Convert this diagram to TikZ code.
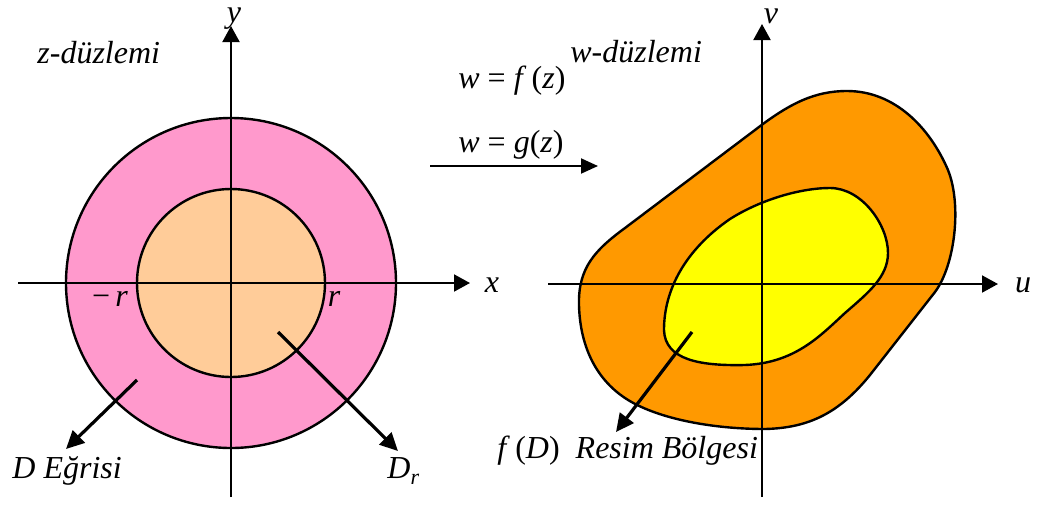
\documentclass[tikz,border=0pt]{standalone}
\usepackage{fontspec}
\setmainfont{Liberation Serif}
\usetikzlibrary{arrows.meta}
\definecolor{pinkc}{HTML}{FF99CC}
\definecolor{peachc}{HTML}{FFCC99}
\definecolor{orangec}{HTML}{FF9900}
\definecolor{yellowc}{HTML}{FFFF00}
\tikzset{
  axis/.style={line width=1pt,-{Triangle[length=8pt,width=8.5pt]}},
  outline/.style={line width=1.2pt,draw=black},
  pointer/.style={line width=1.6pt,-{Triangle[length=9pt,width=8.5pt]}},
  maparrow/.style={line width=1pt,-{Triangle[length=8.5pt,width=7.5pt]}},
  lbl/.style={inner sep=0pt,font=\fontsize{16}{18}\selectfont\itshape},
  mlbl/.style={inner sep=0pt,font=\fontsize{16}{18}\selectfont},
}
\begin{document}
\begin{tikzpicture}[x=0.5pt,y=-0.5pt]
\useasboundingbox (0,0) rectangle (1041,505);
% ---- left plane
\fill[pinkc] (231,283) circle[radius=82.5pt];
\draw[outline] (231,283) circle[radius=82.5pt];
\fill[peachc] (231,283) circle[radius=47pt];
\draw[outline] (231,283) circle[radius=47pt];
\coordinate (xL) at (18,283);
\coordinate (xR) at (470,283);
\coordinate (yB) at (231,497);
\coordinate (yT) at (231,26);
\draw[axis] (xL) -- (xR);
\draw[axis] (yB) -- (yT);
\node[lbl,anchor=base] (ly) at (234,22) {y};
\node[lbl] (lx) at (492,285) {x};
\node[lbl,anchor=base west] (lz) at (37,63) {z-düzlemi};
\node[mlbl] (lmr) at (110,299) {−\,\textit{r}};
\node[lbl] (lr) at (334,299) {r};
\node[lbl,anchor=base west] (lDE) at (12,478) {D Eğrisi};
\node[lbl,anchor=base west] (lDr) at (387,478) {D\raisebox{-0.45ex}{\fontsize{11}{13}\selectfont r}};
\coordinate (a1s) at (137,380);
\coordinate (a1e) at (66,449);
\coordinate (a2s) at (278,332);
\coordinate (a2e) at (398,451);
\draw[pointer] (a1s) -- (a1e);
\draw[pointer] (a2s) -- (a2e);
% ---- middle
\node[mlbl,anchor=base west] (lf) at (458,88) {\textit{w} = \textit{f}\,(\textit{z})};
\node[mlbl,anchor=base west] (lg) at (458,152) {\textit{w} = \textit{g}(\textit{z})};
\coordinate (mS) at (430,166);
\coordinate (mE) at (598,166);
\draw[maparrow] (mS) -- (mE);
% ---- right plane
\filldraw[outline,fill=orangec]
  (579,305) .. controls (578,268) and (595,250) .. (625,228)
  -- (755,130)
  .. controls (790,103) and (815,91) .. (847,91)
  .. controls (895,91) and (930,128) .. (948,170)
  .. controls (962,205) and (955,265) .. (935,292)
  -- (870,375)
  .. controls (840,412) and (810,428) .. (765,429)
  .. controls (710,429) and (655,418) .. (625,398)
  .. controls (595,378) and (580,345) .. (579,305) -- cycle;
\filldraw[outline,fill=yellowc]
  (664,330) .. controls (664,290) and (685,250) .. (730,219)
  .. controls (760,200) and (800,188) .. (830,188)
  .. controls (862,188) and (888,225) .. (888,253)
  .. controls (888,277) and (868,293) .. (845,313)
  .. controls (820,336) and (795,363) .. (745,365)
  .. controls (700,366) and (665,360) .. (664,330) -- cycle;
\coordinate (uL) at (548,284);
\coordinate (uR) at (998,284);
\coordinate (vB) at (762,497);
\coordinate (vT) at (762,24);
\draw[axis] (uL) -- (uR);
\draw[axis] (vB) -- (vT);
\node[lbl] (lv) at (771,16) {v};
\node[lbl] (lu) at (1023,285) {u};
\node[lbl,anchor=base west] (lw) at (570,62) {w-düzlemi};
\node[mlbl,anchor=base west] (lfD) at (497,458) {\textit{f}\,(\textit{D})\enspace\textit{Resim Bölgesi}};
\coordinate (a3s) at (692,332);
\coordinate (a3e) at (616,432);
\draw[pointer] (a3s) -- (a3e);
\end{tikzpicture}
\end{document}
